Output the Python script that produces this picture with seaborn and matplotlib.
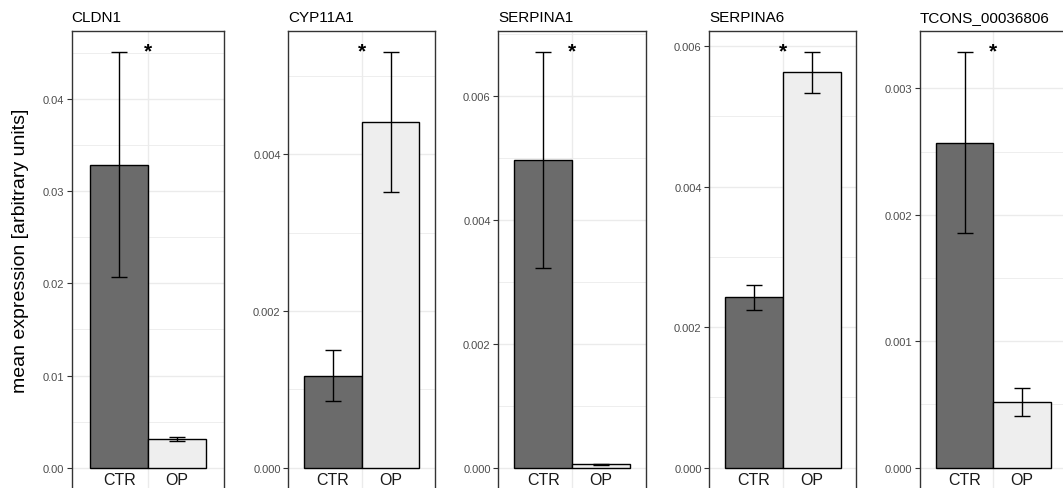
import numpy as np
import pandas as pd
import matplotlib
matplotlib.use("Agg")
import matplotlib.pyplot as plt
import matplotlib.transforms as mtrans
from matplotlib.ticker import MultipleLocator, FormatStrFormatter
import seaborn as sns

# Data
genes = ["CLDN1", "CYP11A1", "SERPINA1", "SERPINA6", "TCONS_00036806"]
groups = ["CTR", "OP"]
ctr_mean = [0.0329, 0.001176, 0.004968, 0.002426, 0.002571]
ctr_err = [0.0122, 0.000325, 0.00174, 0.000175, 0.000716]
op_mean = [0.00311, 0.004408, 0.000058, 0.005625, 0.000522]
op_err = [0.00018, 0.000895, 0.00001, 0.00029, 0.00011]
tick_step = [0.01, 0.002, 0.002, 0.002, 0.001]
tick_fmt = ["%.2f", "%.3f", "%.3f", "%.3f", "%.3f"]

sns.set_style("white")
plt.rcParams["font.family"] = ["Liberation Sans", "DejaVu Sans"]

W, H = 1063, 489
fig = plt.figure(figsize=(W / 100, H / 100), dpi=100)

# panel placement in pixels (left, right)
panel_px = [(71.7, 224.3), (288.3, 435.0), (498.3, 645.7), (709.3, 856.3), (920.0, 1066.7)]
top_px, bottom_px = 32.3, 489.5

grid_col = "#EBEBEB"
bar_cols = {"CTR": "#6B6B6B", "OP": "#EEEEEE"}

for i, gene in enumerate(genes):
    l, r = panel_px[i]
    ax = fig.add_axes([l / W, 1 - bottom_px / H, (r - l) / W, (bottom_px - top_px) / H])

    df = pd.DataFrame({"group": groups,
                       "mean": [ctr_mean[i], op_mean[i]],
                       "err": [ctr_err[i], op_err[i]]})
    sns.barplot(data=df, x="group", y="mean", hue="group", palette=bar_cols,
                width=1.0, errorbar=None, edgecolor="black", linewidth=1.0,
                legend=False, ax=ax, zorder=3)
    ax.errorbar(x=[0, 1], y=df["mean"], yerr=df["err"], fmt="none",
                ecolor="black", elinewidth=1.0, capsize=6, capthick=1.0, zorder=4)

    ymax = (df["mean"] + df["err"]).max()
    ax.set_ylim(-0.05 * ymax, 1.05 * ymax)
    half = (r - l) / 2 / 57.7
    ax.set_xlim(0.5 - half, 0.5 + half)

    ax.yaxis.set_major_locator(MultipleLocator(tick_step[i]))
    ax.yaxis.set_minor_locator(MultipleLocator(tick_step[i] / 2))
    ax.yaxis.set_major_formatter(FormatStrFormatter(tick_fmt[i]))
    ax.set_xticks([])
    ax.grid(False)
    for y in ax.get_yticks(minor=True):
        ax.axhline(y, color=grid_col, lw=0.6, zorder=0)
    for y in ax.get_yticks():
        ax.axhline(y, color=grid_col, lw=1.0, zorder=0)
    ax.axvline(0.5, color=grid_col, lw=1.0, zorder=0)

    ax.tick_params(axis="y", which="major", left=True, length=3.5, width=0.8,
                   color="#333333", labelsize=8, labelcolor="#4D4D4D", pad=2)
    ax.tick_params(axis="y", which="minor", left=False)
    ax.set_xlabel("")
    ax.set_ylabel("")
    for side in ["top", "left", "right"]:
        ax.spines[side].set_color("#333333")
        ax.spines[side].set_linewidth(1.0)
    ax.spines["bottom"].set_visible(False)

    blend = mtrans.blended_transform_factory(ax.transData, ax.transAxes)
    for j, g in enumerate(groups):
        ax.text(j, 0.0098, g, transform=blend, ha="center", va="baseline",
                fontsize=11.5, color="#1A1A1A", zorder=5)
    ax.text(0.5, 0.946, "*", transform=blend, ha="center", va="baseline",
            fontsize=15, fontweight="bold", color="black", zorder=5)

    fig.text(l / W, 1 - 22.3 / H, gene, ha="left", va="baseline",
             fontsize=11, color="black")

fig.text(21 / W, 1 - 250.8 / H, "mean expression [arbitrary units]",
         rotation=90, ha="center", va="center", fontsize=14, color="black")

fig.savefig("out.png", dpi=100)
